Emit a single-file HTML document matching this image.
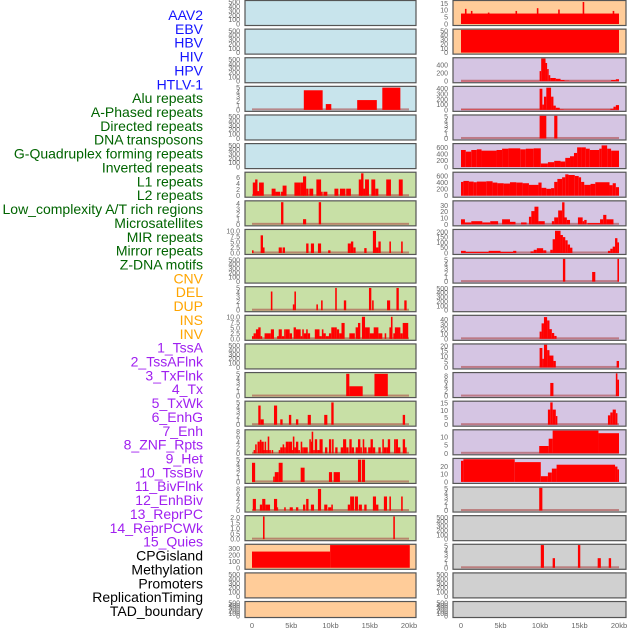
<!DOCTYPE html>
<html><head><meta charset="utf-8"><style>
html,body{margin:0;padding:0;background:#fff;}
svg{display:block;font-family:"Liberation Sans",sans-serif;}
</style></head><body>
<svg id="chart" width="630" height="630" viewBox="0 0 630 630" xmlns="http://www.w3.org/2000/svg">
<g id="labels"></g>
<g id="panels"></g>
<g id="xaxes"></g>
</svg>
<script>
// ---------- data ----------
const labelNames = ["AAV2","EBV","HBV","HIV","HPV","HTLV-1","Alu repeats","A-Phased repeats","Directed repeats","DNA transposons","G-Quadruplex forming repeats","Inverted repeats","L1 repeats","L2 repeats","Low_complexity A/T rich regions","Microsatellites","MIR repeats","Mirror repeats","Z-DNA motifs","CNV","DEL","DUP","INS","INV","1_TssA","2_TssAFlnk","3_TxFlnk","4_Tx","5_TxWk","6_EnhG","7_Enh","8_ZNF_Rpts","9_Het","10_TssBiv","11_BivFlnk","12_EnhBiv","13_ReprPC","14_ReprPCWk","15_Quies","CPGisland","Methylation","Promoters","ReplicationTiming","TAD_boundary"];
const labelGroups = ["virus","virus","virus","virus","virus","virus","repeat","repeat","repeat","repeat","repeat","repeat","repeat","repeat","repeat","repeat","repeat","repeat","repeat","sv","sv","sv","sv","sv","chrom","chrom","chrom","chrom","chrom","chrom","chrom","chrom","chrom","chrom","chrom","chrom","chrom","chrom","chrom","other","other","other","other","other"];
const xTickValues = [0,5,10,15,20];
const xTickLabels = ["0","5kb","10kb","15kb","20kb"];

const emptyTicks = [0,100,200,300,400,500];
const t5 = [0,1,2,3,4,5];
// left column segments [startKb, endKb, value]
const hivSegs = [[6.6,9.0,4.4],[9.4,10.1,1.3],[13.4,15.9,2.2],[16.6,18.9,5]];
const aluSegs = [[0.1,0.5,4.3],[0.4,0.7,5.3],[0.7,0.9,1.5],[0.9,1.5,4.3],[2.5,3.0,2.3],[3.0,3.6,1.3],[3.7,4.0,1.3],[3.9,4.4,3.3],[5.4,6.2,4.3],[6.2,6.6,4.3],[6.5,6.9,6.3],[6.9,7.2,2.3],[7.3,7.8,2.3],[8.2,8.8,5.3],[8.8,9.0,1.3],[9.1,9.6,1.3],[10.5,11.0,2.3],[11.2,11.9,2.3],[12.0,12.6,2.3],[13.6,14.0,5.3],[13.9,14.2,7.3],[14.2,14.4,2.3],[14.4,14.9,5.3],[15.2,15.7,5.3],[15.7,16.1,2.3],[17.1,17.7,5.3],[18.7,19.2,5.3]];
const aPhasedSegs = [[3.7,4.0,4.3],[6.5,6.9,1],[8.5,8.8,4.3]];
const directedSegs = [[0,0.2,1.2],[1.1,1.4,8],[1.4,1.6,2.5],[3.4,3.8,2.5],[3.9,4.2,2.5],[6.9,7.2,4.3],[7.5,7.9,4.3],[8.4,8.8,4.3],[9.7,10.0,1.2],[12.2,12.6,4.3],[12.6,12.9,5.2],[12.9,13.2,2.5],[14.3,14.6,2.2],[15.4,15.8,10],[15.8,16.1,2.5],[16.1,16.4,5.2],[17.5,17.7,5.2],[19.0,19.2,5.2]];
const gquadSegs = [[2.4,2.6,4.2],[5.2,5.4,1.3],[5.4,5.6,4.2],[8.2,8.4,1.3],[8.8,9.0,2.2],[10.6,10.8,5],[11.7,12.0,2.2],[14.9,15.2,5],[15.3,15.5,2.2],[17.2,17.6,2.2],[18.4,18.7,5],[19.4,19.7,2.2]];
const invertedSegs = [[0,0.2,1.2],[0.2,0.5,2.5],[0.5,0.9,4.3],[0.8,1.1,5.2],[1.1,1.3,1.2],[1.6,2.4,2.5],[2.4,2.8,4.3],[3.2,3.5,1.2],[3.4,3.8,4.3],[3.8,4.1,1.2],[4.1,4.3,4.3],[4.3,4.8,4.3],[4.8,5.1,2.5],[5.3,5.6,5.2],[5.6,6.2,4.3],[6.2,6.4,1.2],[6.4,6.6,4.3],[6.6,7.0,2.5],[6.9,7.1,4.3],[7.1,7.4,2.5],[8.0,8.6,4.3],[8.6,8.9,1.2],[8.9,9.1,4.3],[9.1,9.4,2.5],[9.4,9.8,1.2],[9.8,10.1,2.5],[10.1,10.5,5.2],[10.5,10.8,5.2],[10.8,11.1,4.3],[11.1,11.4,2.5],[11.4,11.8,7.2],[12.4,13.1,2.5],[13.2,13.7,5.2],[13.5,13.8,7.2],[14.0,14.4,10],[14.4,15.0,5.2],[15.0,15.6,2.5],[15.5,16.1,5.2],[16.1,16.6,2.5],[16.9,17.1,2.5],[17.5,17.8,5.2],[17.7,17.9,10],[18.0,18.3,2.5],[18.2,18.6,5.2],[18.6,18.9,5.2],[18.9,19.2,2.5],[19.2,19.9,7.2]];
const l2Segs = [[12.0,12.4,5],[12.4,14.1,2.2],[15.6,17.3,5]];
const lowCompSegs = [[0.8,1.1,4.3],[1.1,1.5,1.2],[2.8,3.2,4.3],[3.6,3.9,1.2],[4.7,5.0,2.2],[5.6,5.9,1.2],[7.1,7.5,2.2],[9.2,9.6,2.2],[10.1,10.4,5],[19.2,19.5,2.2]];
const microSegs = [[0.2,0.4,1.2],[0.4,0.6,3.3],[0.7,1.0,4.3],[1.0,1.2,5],[1.2,1.5,4.3],[1.4,1.6,1.2],[1.6,1.8,4.3],[1.8,2.0,1.2],[2.0,2.2,6.2],[2.2,2.4,1.2],[2.5,2.7,1.2],[3.4,3.6,1.2],[3.6,3.9,2.2],[3.9,4.1,3.3],[4.1,4.3,2.2],[4.3,4.6,4.3],[4.6,5.1,4.3],[5.1,5.3,1.2],[5.2,5.4,6.2],[5.4,5.6,2.2],[5.6,5.9,4.3],[5.9,6.1,1.2],[6.2,6.4,4.3],[6.4,6.6,2.2],[6.6,7.1,2.2],[7.3,7.5,5.2],[7.5,7.7,4.3],[7.6,7.8,8],[7.8,8.0,1.2],[8.0,8.3,5.2],[8.3,8.6,1.2],[8.6,9.0,5.2],[9.3,9.6,2.2],[9.8,10.1,5.2],[10.2,10.4,5.2],[10.6,10.9,2.2],[11.3,11.6,2.2],[11.6,12.0,5.2],[12.0,12.3,2.2],[12.4,12.7,5.2],[12.7,13.0,2.2],[13.2,13.5,2.2],[13.5,13.8,5.2],[13.8,14.0,2.2],[14.1,14.3,5.2],[14.3,14.6,2.2],[14.8,15.1,2.2],[15.1,15.4,5.2],[15.4,15.7,2.2],[16.1,16.4,2.2],[16.6,16.8,5.2],[16.8,17.1,2.2],[17.1,17.4,2.2],[17.3,17.6,5.2],[18.1,18.3,5.2],[18.3,18.6,5.2],[18.6,18.9,2.2],[19.2,19.5,5.2],[19.5,19.7,2.2]];
const mirSegs = [[0,0.4,4.3],[2.7,2.9,1.2],[2.9,3.4,2.2],[3.4,3.9,4.3],[6.2,6.7,3.2],[9.8,10.2,2.2],[10.4,11.2,2.2],[13.5,13.9,5],[14.0,14.4,5]];
const mirrorSegs = [[0.1,0.5,4.3],[1.0,1.3,2.2],[1.3,1.7,4.3],[1.7,2.3,2.2],[2.8,3.2,4.3],[3.2,3.3,1.2],[4.1,4.3,1.2],[4.8,5.2,1.2],[5.6,5.9,1.2],[6.5,6.8,2.2],[6.9,7.2,4.3],[7.5,7.9,2.2],[8.4,8.8,8],[9.2,9.6,2.2],[9.7,10.1,1.2],[10.1,10.3,2.2],[12.2,12.5,2.2],[12.5,13.0,5.2],[13.1,13.5,5.2],[13.6,14.0,2.2],[14.3,14.6,2.2],[15.4,15.8,5.2],[15.8,16.1,2.2],[16.8,17.2,5.2],[17.5,17.7,5.2],[19.0,19.2,5.2]];
const zdnaSegs = [[1.4,1.6,2.1],[18.0,18.2,2.1]];
const cnvSegs = [[0,9.95,250],[9.95,20.1,350]];
// right column segments
const insSegs = [[0,20,7.6],[0.5,0.7,11],[1.25,1.45,9.5],[3.4,3.6,8.3],[6.9,7.1,9.5],[9.6,9.8,11.5],[12.3,12.5,10.5],[15.4,15.6,16],[19.2,19.4,9.5]];
const invSegs = [[0,20,52]];
const tssASegs = [[0,9.9,8],[9.95,10.15,250],[10.15,10.7,560],[10.7,10.9,450],[10.9,11.1,300],[11.1,11.3,150],[11.3,12.0,80],[12.0,12.6,60],[12.6,13.1,30],[13.1,13.7,15],[13.7,19.0,8],[19.0,19.6,30],[19.6,20,50]];
const tssAFlnkSegs = [[0,9.9,6],[9.95,10.3,400],[10.3,10.5,100],[10.5,10.8,250],[10.8,11.4,420],[11.4,11.7,250],[11.7,12.0,80],[12.0,12.5,40],[12.5,13.0,10],[13.0,18.9,6],[18.9,19.3,20],[19.3,19.6,60],[19.6,20,90]];
const txFlnkSegs = [[9.95,10.8,5.2],[11.8,12.2,5.2]];
const txSegs = [[0,0.6,520],[0.6,1.3,470],[1.3,2.0,520],[2.0,2.6,540],[2.6,4.5,500],[4.5,5.2,520],[5.2,6.0,560],[6.0,7.5,570],[7.5,8.2,540],[8.2,9.2,560],[9.2,10.1,570],[10.1,11.0,110],[11.0,11.8,150],[11.8,12.6,190],[12.6,13.2,170],[13.2,13.8,280],[13.8,14.3,330],[14.3,14.7,430],[14.7,15.2,600],[15.2,15.8,600],[15.8,16.3,560],[16.3,17.5,520],[17.5,17.8,560],[17.8,18.5,660],[18.5,19.0,560],[19.0,20,500]];
const txWkSegs = [[0,0.3,420],[0.3,1.0,450],[1.0,1.6,430],[1.6,2.0,410],[2.0,3.2,430],[3.2,4.0,440],[4.0,4.6,400],[4.6,5.4,380],[5.4,6.2,370],[6.2,7.0,410],[7.0,7.8,400],[7.8,8.6,380],[8.6,9.8,330],[9.8,10.2,400],[10.2,10.8,240],[10.8,11.4,210],[11.4,11.8,230],[11.8,12.2,420],[12.2,12.8,510],[12.8,13.2,560],[13.2,13.6,650],[13.6,14.4,630],[14.4,14.9,600],[14.9,15.2,560],[15.2,15.6,420],[15.6,16.4,330],[16.4,17.0,360],[17.0,18.8,410],[18.8,19.2,320],[19.2,19.6,380],[19.6,20,260]];
const enhGSegs = [[0,0.5,8],[0.5,1.3,3],[1.3,2.7,5],[2.7,3.7,3],[3.7,4.7,5],[5.2,6.2,8],[6.2,6.9,4],[7.6,8.3,3],[8.6,8.9,12],[8.9,9.3,21],[9.3,9.8,28],[9.8,10.6,5],[11.5,11.8,5],[11.8,12.3,11],[12.3,12.8,22],[12.8,13.1,35],[13.1,13.4,11],[13.4,13.8,7],[14.8,15.4,11],[15.4,15.6,5],[15.6,15.9,7],[16.0,17.6,2],[17.6,18.0,8],[18.0,18.4,15],[18.4,19.3,8]];
const enhSegs = [[0,0.6,20],[0.6,3.5,10],[3.5,5.0,20],[5.0,6.6,10],[6.6,7.0,20],[8.8,9.2,15],[9.2,9.6,30],[9.6,10.4,45],[10.4,10.8,25],[11.3,11.6,30],[11.6,11.9,130],[11.9,12.6,210],[12.6,12.9,170],[12.9,13.2,150],[13.2,13.5,120],[13.5,13.8,80],[13.8,14.1,50],[18.6,18.9,20],[18.9,19.2,40],[19.2,19.5,60],[19.5,19.8,140],[19.8,20,100]];
const znfSegs = [[12.9,13.2,5.2],[16.6,17.0,2.2],[19.8,20,5.2]];
const tssBivSegs = [[9.95,10.2,15],[10.2,10.5,32],[10.5,10.9,45],[10.9,11.2,38],[11.2,11.5,20],[11.5,11.8,12],[11.8,12.1,6]];
const bivFlnkSegs = [[9.95,10.3,18],[10.3,10.5,8],[10.5,10.9,21],[10.9,11.2,16],[11.2,11.7,11],[11.7,12.0,6],[19.7,20,6]];
const enhBivSegs = [[11.3,11.7,5.2],[19.6,19.8,9],[19.8,20,6.5]];
const reprPCSegs = [[11.0,11.3,10.5],[11.3,11.6,15.5],[11.6,12.0,10.5],[12.0,12.2,6],[18.6,18.9,6.5],[18.9,19.2,8.5],[19.2,19.6,10.5],[19.6,19.8,8]];
const reprPCWkSegs = [[9.9,11.1,4.5],[11.1,11.6,9],[11.6,17.4,14],[17.4,20,12.4]];
const quiesSegs = [[0,0.3,27],[0.3,6.8,29],[6.8,10.1,25.3],[10.1,11.0,7.3],[11.0,11.5,12],[11.5,12.1,17],[12.1,19.5,22],[19.5,19.8,19.6],[19.8,20,16]];
const cpgSegs = [[9.9,10.3,5.2]];
const promoterSegs = [[10.1,10.5,5.2],[11.6,11.9,2.2],[14.8,15.1,5.2],[17.3,17.7,2.2],[18.7,19.0,2.2]];

// panel list: [column, row, background, ymax, ticks, segments, baseline, name]
const panelList = [
 ["L",0,"blue",520,emptyTicks,[],false,"aav2"],
 ["L",1,"blue",520,emptyTicks,[],false,"ebv"],
 ["L",2,"blue",520,emptyTicks,[],false,"hbv"],
 ["L",3,"blue",5.1,t5,hivSegs,true,"hiv"],
 ["L",4,"blue",520,emptyTicks,[],false,"hpv"],
 ["L",5,"blue",520,emptyTicks,[],false,"htlv-1"],
 ["L",6,"green",7.4,[0,2,4,6],aluSegs,true,"alu"],
 ["L",7,"green",4.4,[0,1,2,3,4],aPhasedSegs,true,"a-phased"],
 ["L",8,"green",10.3,[0,2.5,5,7.5,10],directedSegs,true,"directed"],
 ["L",9,"green",520,emptyTicks,[],false,"dna-transposons"],
 ["L",10,"green",5.1,t5,gquadSegs,true,"g-quadruplex"],
 ["L",11,"green",10.3,[0,2.5,5,7.5,10],invertedSegs,true,"inverted"],
 ["L",12,"green",520,emptyTicks,[],false,"l1"],
 ["L",13,"green",5.1,t5,l2Segs,true,"l2"],
 ["L",14,"green",5.1,t5,lowCompSegs,true,"low-complexity"],
 ["L",15,"green",8.4,[0,2,4,6,8],microSegs,true,"microsatellites"],
 ["L",16,"green",5.1,t5,mirSegs,true,"mir"],
 ["L",17,"green",8.4,[0,2,4,6,8],mirrorSegs,true,"mirror"],
 ["L",18,"green",2.1,[0,0.5,1,1.5,2],zdnaSegs,true,"z-dna"],
 ["L",19,"orange",350,[0,100,200,300],cnvSegs,false,"cnv"],
 ["L",20,"orange",520,emptyTicks,[],false,"del"],
 ["L",21,"orange",520,emptyTicks,[],false,"dup"],
 ["R",0,"orange",16.5,[0,5,10,15],insSegs,false,"ins"],
 ["R",1,"orange",52,[0,10,20,30,40,50],invSegs,false,"inv"],
 ["R",2,"purple",560,[0,200,400],tssASegs,true,"tssa"],
 ["R",3,"purple",430,[0,100,200,300,400],tssAFlnkSegs,true,"tssaflnk"],
 ["R",4,"purple",5.2,t5,txFlnkSegs,true,"txflnk"],
 ["R",5,"purple",690,[0,200,400,600],txSegs,false,"tx"],
 ["R",6,"purple",690,[0,200,400,600],txWkSegs,false,"txwk"],
 ["R",7,"purple",36,[0,10,20,30],enhGSegs,true,"enhg"],
 ["R",8,"purple",215,[0,50,100,150,200],enhSegs,true,"enh"],
 ["R",9,"purple",5.2,t5,znfSegs,true,"znf-rpts"],
 ["R",10,"purple",520,emptyTicks,[],false,"het"],
 ["R",11,"purple",47,[0,10,20,30,40],tssBivSegs,true,"tssbiv"],
 ["R",12,"purple",21,[0,5,10,15,20],bivFlnkSegs,true,"bivflnk"],
 ["R",13,"purple",9,[0,2,4,6,8],enhBivSegs,true,"enhbiv"],
 ["R",14,"purple",15.8,[0,5,10,15],reprPCSegs,true,"reprpc"],
 ["R",15,"purple",14,[0,5,10],reprPCWkSegs,true,"reprpcwk"],
 ["R",16,"purple",29,[0,10,20],quiesSegs,false,"quies"],
 ["R",17,"gray",5.2,t5,cpgSegs,true,"cpgisland"],
 ["R",18,"gray",520,emptyTicks,[],false,"methylation"],
 ["R",19,"gray",5.2,t5,promoterSegs,true,"promoters"],
 ["R",20,"gray",520,emptyTicks,[],false,"replication-timing"],
 ["R",21,"gray",520,emptyTicks,[],false,"tad-boundary"]
];

// ---------- rendering ----------
const NS="http://www.w3.org/2000/svg";
const groupColors={virus:"#1414ff",repeat:"#006400",sv:"#ffa500",chrom:"#a020f0",other:"#000000"};
const bgColors={blue:"#c8e4ec",green:"#c8e0a6",orange:"#ffcc99",purple:"#d5c5e3",gray:"#d0d0d0"};
const cols={L:{box0:245,box1:416,x0:252,x1:409,tickX:240},R:{box0:453,box1:626,x0:461,x1:619,tickX:448}};
function mk(tag,attrs,parent){const e=document.createElementNS(NS,tag);for(const k in attrs)e.setAttribute(k,attrs[k]);parent.appendChild(e);return e;}
function xScale(c,kb){return c.x0+(c.x1-c.x0)*kb/20;}
function rowTop(r){return 0.5+r*28.62;}
function rowH(r){return r===21?16:25;}

const lab=document.getElementById("labels");
labelNames.forEach((n,i)=>{
  const t=mk("text",{x:203,y:15+i*13.86+5,"text-anchor":"end","font-size":"14",fill:groupColors[labelGroups[i]]},lab);
  t.textContent=n;
  
  
});

const pg=document.getElementById("panels");
panelList.forEach(p=>{
  const [colKey,row,bg,ymax,ticks,segs,baseline,name]=p;
  const c=cols[colKey];
  const top=rowTop(row), h=rowH(row);
  const base=top+h-1.5, yTop=top+0.8;
  const yS=v=>base-(base-yTop)*Math.min(v,ymax)/ymax;
  const g=mk("g",{},pg);
  
  
  mk("rect",{x:c.box0,y:top,width:c.box1-c.box0,height:h,fill:bgColors[bg]},g);
  if(baseline){
    const bl=mk("rect",{x:xScale(c,0),y:base-1.5,width:xScale(c,20)-xScale(c,0),height:2,fill:"rgba(170,60,60,0.55)"},g);
    
    
  }
  segs.forEach((s,i)=>{
    const x=xScale(c,s[0]), w=Math.max(1,xScale(c,s[1])-x), y=yS(s[2]);
    const b=mk("rect",{x:x,y:y,width:w,height:base-y,fill:"#ff0000"},g);
    
    
  });
  mk("rect",{x:c.box0,y:top,width:c.box1-c.box0,height:h,fill:"none",stroke:"#555","stroke-width":1.2},g);
  ticks.forEach(tv=>{
    const t=mk("text",{x:c.tickX,y:yS(tv)+2.5,"text-anchor":"end","font-size":"7",fill:"#666"},g);
    t.textContent=String(tv===2.5||tv===7.5||tv===0.5||tv===1.5?tv.toFixed(1):(ymax<11&&ymax>9?tv.toFixed(1):(ymax<2.5?tv.toFixed(1):tv)));
    
    
  });
});

const xa=document.getElementById("xaxes");
["L","R"].forEach(k=>{
  const c=cols[k];
  xTickValues.forEach((v,i)=>{
    const t=mk("text",{x:xScale(c,v),y:628,"text-anchor":"middle","font-size":"7.5",fill:"#666"},xa);
    t.textContent=xTickLabels[i];
    
    
  });
});
</script>
</body></html>
